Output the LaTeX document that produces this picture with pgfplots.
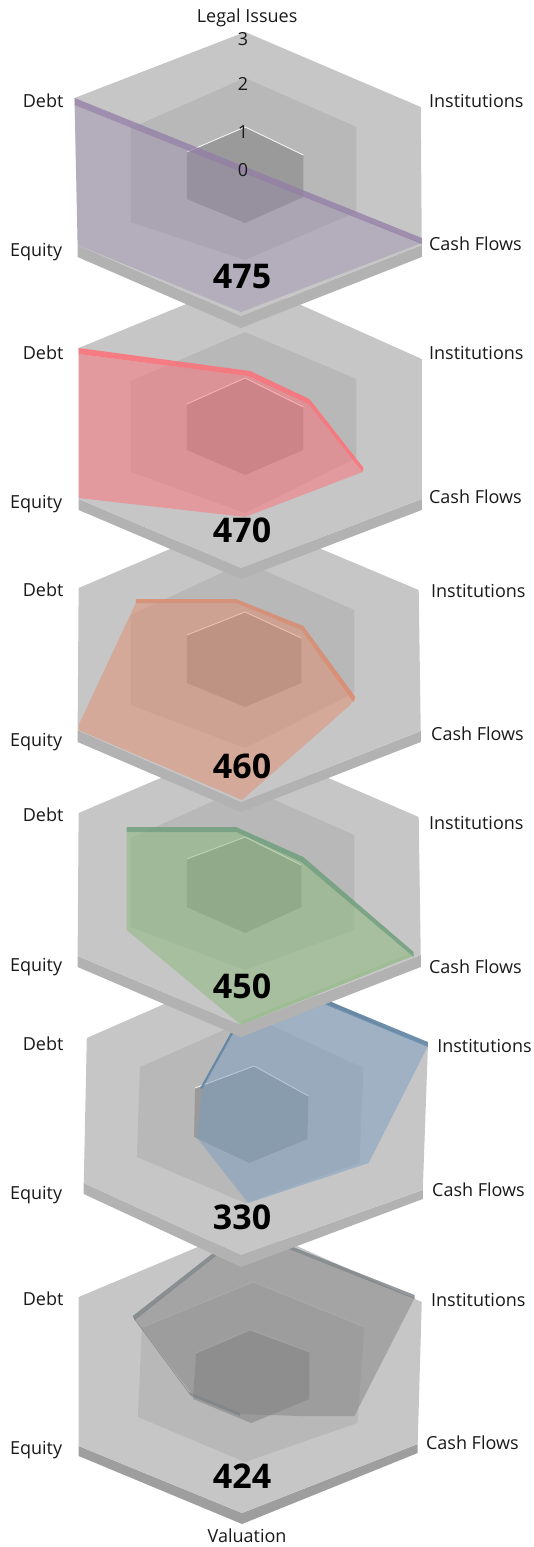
\documentclass[border=0pt]{standalone}
\usepackage{pgfplots}
\pgfplotsset{compat=1.18}
\usepackage{fontspec}
\setmainfont{Open Sans}
\definecolor{hexo}{RGB}{198,198,198}
\definecolor{hexs}{RGB}{178,178,178}
\definecolor{hexd}{RGB}{158,158,158}
\definecolor{purp}{RGB}{146,124,167}
\definecolor{redc}{RGB}{255,112,120}
\definecolor{orgc}{RGB}{226,142,112}
\definecolor{grnc}{RGB}{138,186,122}
\definecolor{bluc}{RGB}{122,158,192}
\definecolor{gryc}{RGB}{132,132,132}
\definecolor{grnb}{RGB}{112,160,125}
\definecolor{orgb}{RGB}{218,140,112}
\definecolor{blub}{RGB}{95,130,160}
\definecolor{gryb}{RGB}{122,128,132}
\pgfplotsset{
  side/.style={draw=none,fill=hexs},
  outer/.style={draw=none,fill=hexo},
  mid/.style={draw=none,fill=black,fill opacity=0.065},
  inn/.style={draw=none,fill=black,fill opacity=0.16},
  edge/.style={draw=white,line width=0.9pt,draw opacity=0.85},
}
\newcommand{\lab}[3]{\node[anchor=base west,font=\fontsize{18}{20}\selectfont,text=black!90,inner sep=0pt] at (axis cs:#1,#2) {#3};}
\newcommand{\labr}[3]{\node[anchor=base east,font=\fontsize{18}{20}\selectfont,text=black!90,inner sep=0pt] at (axis cs:#1,#2) {#3};}
\newcommand{\labc}[3]{\node[anchor=base,font=\fontsize{18}{20}\selectfont,text=black!90,inner sep=0pt] at (axis cs:#1,#2) {#3};}
\newcommand{\bignum}[3]{\node[anchor=center,font=\bfseries\fontsize{34}{36}\selectfont,inner sep=0pt] at (axis cs:#1,#2) {#3};}
\begin{document}
\begin{tikzpicture}
\useasboundingbox (0,0) rectangle (534pt,1547pt);
\begin{axis}[
  at={(0,0)}, anchor=south west,
  scale only axis, width=534pt, height=1547pt,
  xmin=0, xmax=522.9, ymin=0, ymax=1547, y dir=reverse,
  hide axis, clip=true]

% ---------- chart 6 (Valuation, bottom)
\addplot[draw=none,fill=hexd] coordinates {(77,1446)(77,1456)(237,1524)(409,1453)(409,1444)(237,1513)(77,1446)};
\addplot[outer] coordinates {(245,1225)(413,1302)(409,1444)(237,1513)(77,1446)(77,1297)(245,1225)};
\addplot[mid] coordinates {(248,1282)(357,1327)(350,1423)(240,1462)(135,1417)(139,1327)(248,1282)};
\addplot[inn] coordinates {(245,1330)(303,1352)(303,1399)(246,1423)(189,1399)(192,1353)(245,1330)};
\addplot[draw=white,line width=0.9pt,draw opacity=0.3] coordinates {(140,1327)(248,1282)(357,1327)};
\addplot[draw=white,line width=0.9pt,draw opacity=0.3] coordinates {(192,1353)(245,1330)(303,1352)};
\addplot[draw=none,fill=gryb,fill opacity=0.8] coordinates {(240,1228)(406,1295)(406,1299)(241,1232)(132,1320)(130,1316)(240,1228)};
\addplot[draw=none,fill=gryb,fill opacity=0.7] coordinates {(130,1316)(185,1392)(235,1413)(235,1416)(187,1396)(132,1320)(130,1316)};
\addplot[draw=none,fill=gryc,fill opacity=0.5] coordinates {(241,1232)(406,1298)(347,1416)(293,1416)(235,1414)(187,1393)(132,1319)(241,1232)};

% ---------- chart 5
\addplot[side] coordinates {(82,1183)(82,1194)(236,1267)(414,1199)(414,1190)(236,1255)(82,1183)};
\addplot[outer] coordinates {(248,965)(419,1047)(414,1190)(236,1255)(82,1183)(85,1038)(248,965)};
\addplot[mid] coordinates {(248,1017)(356,1068)(352,1163)(240,1203)(134,1157)(137,1067)(248,1017)};
\addplot[inn] coordinates {(249,1066)(302,1096)(301,1139)(244,1163)(190,1137)(191,1088)(249,1066)};
\addplot[edge] coordinates {(191,1088)(249,1066)(302,1096)};
\addplot[draw=none,fill=blub,fill opacity=0.9] coordinates {(258,974)(419,1042)(419,1047)(258,979)(198,1089)(196,1088)(258,974)};
\addplot[draw=none,fill=bluc,fill opacity=0.5] coordinates {(259,978)(419,1046)(361,1163)(243,1203)(193,1138)(198,1088)(259,978)};

% ---------- chart 4
\addplot[side] coordinates {(76,956)(76,967)(236,1037)(412,967)(412,955)(236,1025)(76,956)};
\addplot[outer] coordinates {(240,742)(410,817)(412,955)(236,1025)(76,956)(77,813)(240,742)};
\addplot[mid] coordinates {(240,787)(347,835)(347,930)(240,970)(128,927)(128,838)(240,787)};
\addplot[inn] coordinates {(240,837)(295,865)(295,907)(240,933)(183,907)(183,859)(240,837)};
\addplot[edge] coordinates {(183,859)(240,837)(295,865)};
\addplot[draw=none,fill=grnb,fill opacity=0.85] coordinates {(124,827)(231,827)(297,857)(405,952)(405,957)(295,862)(231,832)(124,832)(124,827)};
\addplot[draw=none,fill=grnc,fill opacity=0.5] coordinates {(124,832)(231,832)(295,862)(404,956)(236,1025)(124,930)(124,832)};
\addplot[draw=none,fill=grnc,fill opacity=0.25] coordinates {(404,956)(236,1025)(236,1021)(400,954)(404,956)};

% ---------- chart 3
\addplot[side] coordinates {(76,730)(76,742)(236,812)(412,742)(412,731)(236,802)(76,730)};
\addplot[outer] coordinates {(240,517)(410,590)(412,731)(236,802)(76,730)(77,588)(240,517)};
\addplot[mid] coordinates {(240,562)(347,610)(347,693)(240,748)(128,705)(128,615)(240,562)};
\addplot[inn] coordinates {(240,612)(295,638)(295,683)(240,707)(183,683)(183,635)(240,612)};
\addplot[edge] coordinates {(183,635)(240,612)(295,638)};
\addplot[draw=none,fill=orgb,fill opacity=0.85] coordinates {(133,599)(231,599)(297,626)(348,697)(346,702)(295,630)(231,603)(133,603)(133,599)};
\addplot[draw=none,fill=orgc,fill opacity=0.5] coordinates {(133,603)(231,603)(295,630)(347,698)(343,705)(237,800)(77,730)(77,725)(133,603)};

% ---------- chart 2
\addplot[side] coordinates {(77,499)(77,510)(236,579)(413,510)(413,499)(236,568)(77,499)};
\addplot[outer] coordinates {(240,280)(413,359)(413,499)(236,568)(77,499)(77,348)(240,280)};
\addplot[mid] coordinates {(240,332)(349,379)(349,458)(240,513)(128,472)(128,381)(240,332)};
\addplot[inn] coordinates {(240,378)(297,407)(297,450)(240,475)(183,450)(183,404)(240,378)};
\addplot[edge] coordinates {(183,404)(240,378)(297,407)};
\addplot[draw=none,fill=redc,fill opacity=0.85] coordinates {(77,348)(245,371)(303,399)(356,468)(355,472)(302,404)(243,376)(77,354)(77,348)};
\addplot[draw=none,fill=redc,fill opacity=0.5] coordinates {(77,354)(243,376)(302,404)(355,472)(240,517)(77,498)(77,354)};

% ---------- chart 1 (Legal Issues, top)
\addplot[side] coordinates {(76,245)(76,257)(236,328)(413,257)(413,245)(236,316)(76,245)};
\addplot[outer] coordinates {(240,32)(412,107)(413,245)(236,316)(76,245)(73,98)(240,32)};
\addplot[mid] coordinates {(240,78)(349,127)(349,212)(240,260)(128,222)(128,128)(240,78)};
\addplot[inn] coordinates {(240,127)(297,155)(297,197)(240,223)(183,199)(183,152)(240,127)};
\addplot[edge] coordinates {(183,152)(240,127)(297,155)};
\addplot[draw=none,fill=purp,fill opacity=0.33] coordinates {(73,105)(413,243)(236,312)(76,245)(73,105)};
\addplot[draw=none,fill=purp,fill opacity=0.75] coordinates {(73,98)(413,238)(413,244)(73,105)(73,98)};

% ---------- texts
\labc{242}{23}{Legal Issues}
\labc{242}{1542}{Valuation}
\labc{238}{45}{3}\labc{238}{90}{2}\labc{238}{138}{1}\labc{238}{176}{0}
\labr{62.3}{107}{Debt}\labr{62.3}{359}{Debt}\labr{62.3}{596}{Debt}\labr{62.3}{821}{Debt}\labr{62.3}{1050}{Debt}\labr{62.3}{1305}{Debt}
\labr{61}{256}{Equity}\labr{61}{508}{Equity}\labr{61}{746}{Equity}\labr{61}{971}{Equity}\labr{61}{1199}{Equity}\labr{61}{1454}{Equity}
\lab{420}{107}{Institutions}\lab{420}{359}{Institutions}\lab{422}{597}{Institutions}\lab{420}{829}{Institutions}\lab{428}{1052}{Institutions}\lab{422}{1306}{Institutions}
\lab{420}{250}{Cash Flows}\lab{420}{503}{Cash Flows}\lab{422}{740}{Cash Flows}\lab{420}{973}{Cash Flows}\lab{423}{1196}{Cash Flows}\lab{417}{1449}{Cash Flows}
\bignum{237}{277}{475}\bignum{237}{530}{470}\bignum{237}{766}{460}\bignum{237}{986}{450}\bignum{237}{1217}{330}\bignum{237}{1476}{424}
\end{axis}
\end{tikzpicture}
\end{document}
